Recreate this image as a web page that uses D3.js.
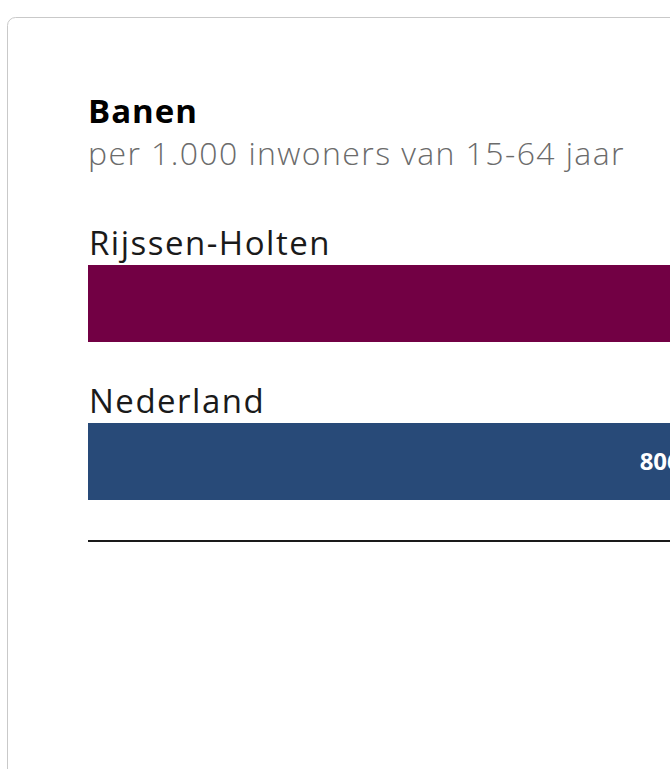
<!DOCTYPE html>
<html>
<head>
<meta charset="utf-8">
<script src="https://cdn.jsdelivr.net/npm/d3@7"></script>
<style>
  html, body { margin: 0; padding: 0; background: #fff; overflow: hidden; }
  svg { display: block; font-family: "Open Sans", Lato, sans-serif; }
</style>
</head>
<body>
<div id="chart"></div>
<script>
// data
const regions = ["Rijssen-Holten", "Nederland"];
const values = [960, 806];
const barColors = ["#720044", "#284a78"];
const title = "Banen";
const subtitle = "per 1.000 inwoners van 15-64 jaar";

const width = 670, height = 769;
const left = 88;

const svg = d3.select("#chart").append("svg")
  .attr("width", width)
  .attr("height", height);

// card frame, runs off the right and bottom edge
svg.append("rect")
  .attr("x", 7.5).attr("y", 17.5)
  .attr("width", 1000).attr("height", 1000)
  .attr("rx", 8)
  .attr("fill", "#fff")
  .attr("stroke", "#c9c9c9");

svg.append("text")
  .attr("x", left).attr("y", 123)
  .style("font-size", "33px")
  .style("font-weight", 700)
  .style("letter-spacing", "1px")
  .attr("fill", "#000")
  .text(title);

svg.append("text")
  .attr("x", left).attr("y", 165)
  .style("font-size", "32px")
  .style("font-weight", 300)
  .style("letter-spacing", "1.4px")
  .attr("fill", "#6b6b6b")
  .text(subtitle);

const x = d3.scaleLinear().domain([0, 960]).range([left, 806]);
const y = d3.scaleBand().domain(regions).range([228, 544]).paddingInner(0.0);

const bars = svg.append("g")
  .selectAll("g")
  .data(regions.map((r, i) => ({ region: r, value: values[i], color: barColors[i] })))
  .join("g")
  .attr("transform", d => `translate(0,${y(d.region)})`);

bars.append("text")
  .attr("x", left + 1)
  .attr("y", 27)
  .style("font-size", "33px")
  .style("letter-spacing", "1.5px")
  .attr("fill", "#1a1a1a")
  .text(d => d.region);

bars.append("rect")
  .attr("x", x(0))
  .attr("y", 37)
  .attr("width", d => x(d.value) - x(0))
  .attr("height", 77)
  .attr("fill", d => d.color);

bars.append("text")
  .attr("x", d => x(d.value) - 10)
  .attr("y", 37 + 77 / 2)
  .attr("dy", "0.35em")
  .attr("text-anchor", "end")
  .style("font-size", "24px")
  .style("font-weight", 700)
  .attr("fill", "#fff")
  .text(d => d.value);

// baseline
svg.append("line")
  .attr("x1", x(0)).attr("x2", 1000)
  .attr("y1", 541).attr("y2", 541)
  .attr("stroke", "#1a1a1a")
  .attr("stroke-width", 2);
</script>
</body>
</html>
